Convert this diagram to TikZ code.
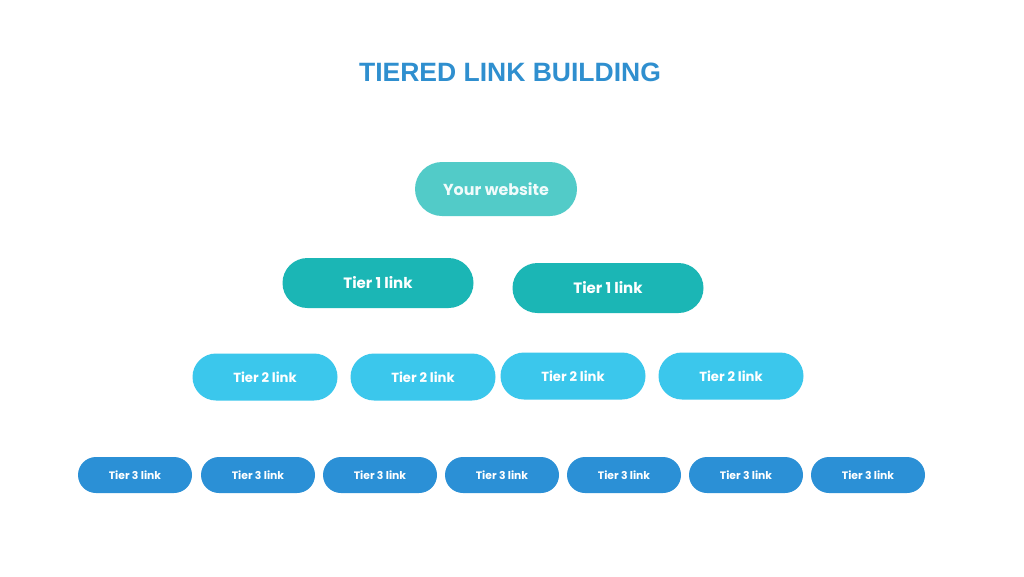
\documentclass[tikz,border=0pt]{standalone}
\usepackage{fontspec}
\setmainfont{Poppins}
\newfontfamily\titlefont{Liberation Sans}
\definecolor{titleblue}{HTML}{2F8FCF}
\definecolor{webc}{HTML}{52CBC8}
\definecolor{tonec}{HTML}{1BB6B5}
\definecolor{ttwoc}{HTML}{3BC7EC}
\definecolor{tthreec}{HTML}{2B90D6}
\tikzset{
  pill/.style={rounded rectangle, inner sep=0pt, text=white, font=\bfseries},
  webbox/.style={pill, fill=webc, minimum width=162pt, minimum height=54pt, font=\fontsize{15.9}{18}\selectfont\bfseries, text=white!92!webc},
  onebox/.style={pill, fill=tonec, minimum width=191pt, minimum height=50pt, font=\fontsize{15}{17}\selectfont\bfseries},
  twobox/.style={pill, fill=ttwoc, minimum width=145pt, minimum height=47pt, font=\fontsize{13.2}{15}\selectfont\bfseries},
  threebox/.style={pill, fill=tthreec, minimum width=114pt, minimum height=36pt, font=\fontsize{10.8}{12}\selectfont\bfseries},
}
\usetikzlibrary{shapes.misc}
\begin{document}
\begin{tikzpicture}[x=1pt,y=-1pt]
\useasboundingbox[fill=white] (0,0) rectangle (1024,576);
\node[font=\titlefont\fontsize{26.5}{30}\selectfont\bfseries, text=titleblue] (title) at (510,72) {TIERED LINK BUILDING};
\node[webbox] (web) at (496,189) {Your website};
\node[onebox] (a1) at (378,283) {Tier 1 link};
\node[onebox] (a2) at (608,288) {Tier 1 link};
\node[twobox] (b1) at (265,377) {Tier 2 link};
\node[twobox] (b2) at (423,377) {Tier 2 link};
\node[twobox] (b3) at (573,376) {Tier 2 link};
\node[twobox] (b4) at (731,376) {Tier 2 link};
\node[threebox] (c1) at (135,475) {Tier 3 link};
\node[threebox] (c2) at (258,475) {Tier 3 link};
\node[threebox] (c3) at (380,475) {Tier 3 link};
\node[threebox] (c4) at (502,475) {Tier 3 link};
\node[threebox] (c5) at (624,475) {Tier 3 link};
\node[threebox] (c6) at (746,475) {Tier 3 link};
\node[threebox] (c7) at (868,475) {Tier 3 link};
\end{tikzpicture}
\end{document}
